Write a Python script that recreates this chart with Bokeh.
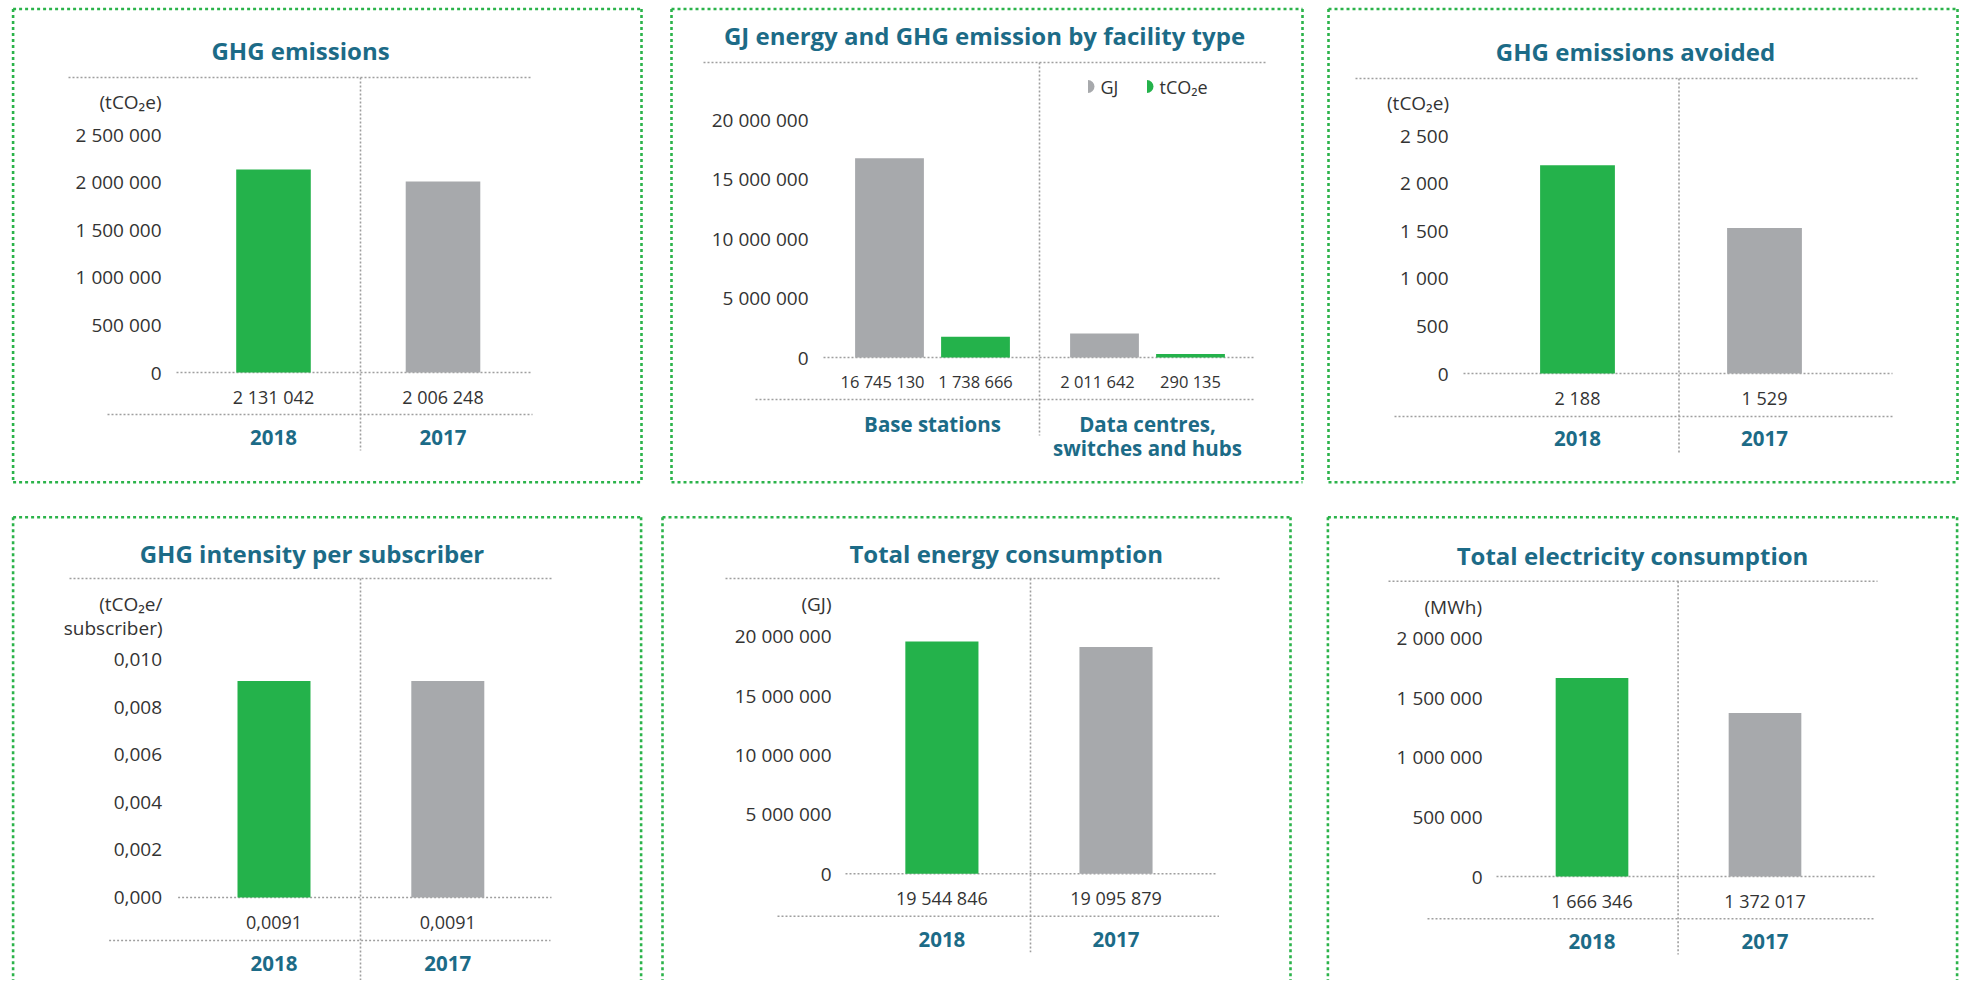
import math
from bokeh.plotting import figure
from bokeh.layouts import row, column
from bokeh.models import Range1d, FixedTicker, ColumnDataSource
from bokeh.core.properties import value
from bokeh.embed import file_html
from bokeh.resources import INLINE

# ---------------- data ----------------
years = ["2018", "2017"]

ghg_emissions = [2131042, 2006248]
ghg_ticks = [0, 500000, 1000000, 1500000, 2000000, 2500000]
ghg_tick_labels = ["0", "500 000", "1 000 000", "1 500 000", "2 000 000", "2 500 000"]

facility_types = ["Base stations", "Data centres,\nswitches and hubs"]
facility_gj = [16745130, 2011642]
facility_tco2e = [1738666, 290135]
facility_series = ["GJ", "tCO₂e"]
facility_ticks = [0, 5000000, 10000000, 15000000, 20000000]
facility_tick_labels = ["0", "5 000 000", "10 000 000", "15 000 000", "20 000 000"]

ghg_avoided = [2188, 1529]
avoided_ticks = [0, 500, 1000, 1500, 2000, 2500]
avoided_tick_labels = ["0", "500", "1 000", "1 500", "2 000", "2 500"]

ghg_intensity = [0.0091, 0.0091]
intensity_ticks = [0.0, 0.002, 0.004, 0.006, 0.008, 0.010]
intensity_tick_labels = ["0,000", "0,002", "0,004", "0,006", "0,008", "0,010"]

energy = [19544846, 19095879]
energy_ticks = [0, 5000000, 10000000, 15000000, 20000000]
energy_tick_labels = ["0", "5 000 000", "10 000 000", "15 000 000", "20 000 000"]

electricity = [1666346, 1372017]
electricity_ticks = [0, 500000, 1000000, 1500000, 2000000]
electricity_tick_labels = ["0", "500 000", "1 000 000", "1 500 000", "2 000 000"]

# ---------------- style ----------------
FONT = "Open Sans"
TEAL = "#1c6b87"
GREEN = "#24b24b"
GREY = "#a7a9ac"
DOT = "#9f9f9f"
BORDER = "#2bb34a"
TXT = "#333333"
year_colors = [GREEN, GREY]


def fmt_int(v):
    return f"{v:,}".replace(",", " ")


def fmt_dec(v):
    return f"{v:.4f}".replace(".", ",")


def build(g, ticks, tick_labels, cat_labels):
    ox, oy, W, H = g["canvas"]
    c0, c1 = g["cx"]
    u = c1 - c0
    yb, k = g["yb"], g["k"]

    def X(px):
        return (px - c0) / u

    def Y(py):
        return (yb - py) / k

    p = figure(width=W, height=H,
               x_range=Range1d(X(ox), X(ox + W)),
               y_range=Range1d(Y(oy + H), Y(oy)),
               output_backend="svg", toolbar_location=None, title=None,
               min_border=0, min_border_left=0, min_border_right=0,
               min_border_top=0, min_border_bottom=0)
    p.xgrid.visible = False
    p.ygrid.visible = False
    p.outline_line_color = None
    p.background_fill_color = "white"
    p.border_fill_color = "white"

    # green dotted frame
    l, t, r, b = g["box"]
    segs = [(l, t, r, t), (l, t, l, b), (r, t, r, b)]
    if g.get("box_bottom", True):
        segs.append((l, b, r, b))
    p.segment(x0=[X(s[0]) for s in segs], y0=[Y(s[1]) for s in segs],
              x1=[X(s[2]) for s in segs], y1=[Y(s[3]) for s in segs],
              line_color=BORDER, line_width=2.6, line_dash="3 3")

    # grey dotted rules
    tl = g["top_line"]
    bl = g["base_line"]
    l2 = g["line2"]
    dv = g["divider"]
    rules = [(tl[1], tl[0], tl[2], tl[0]),
             (bl[1], bl[0], bl[2], bl[0]),
             (l2[1], l2[0], l2[2], l2[0]),
             (dv[0], dv[1], dv[0], dv[2])]
    p.segment(x0=[X(s[0]) for s in rules], y0=[Y(s[1]) for s in rules],
              x1=[X(s[2]) for s in rules], y1=[Y(s[3]) for s in rules],
              line_color=DOT, line_width=1.6, line_dash="2 2")

    # title
    p.text(x=[X(g["title_xy"][0])], y=[Y(g["title_xy"][1])], text=[g["title"]],
           text_align="center", text_baseline="middle",
           text_font=value(FONT), text_font_style="bold",
           text_font_size="24px", text_color=TEAL)

    # unit label
    if g.get("unit"):
        ur = g["unit_right"]
        p.text(x=[X(ur)] * len(g["unit"]), y=[Y(yy) for yy in g["unit_y"]],
               text=g["unit"], text_align="right", text_baseline="middle",
               text_font=value(FONT), text_font_size="19px", text_color=TXT)

    # y axis (inside the panel)
    yax = p.yaxis[0]
    yax.fixed_location = X(g["axis_x"])
    yax.ticker = FixedTicker(ticks=ticks, minor_ticks=[])
    yax.major_label_overrides = dict(zip(ticks, tick_labels))
    yax.major_label_standoff = int(round(g["axis_x"] - g["label_right"]))
    yax.major_tick_in = 0
    yax.major_tick_out = 0
    yax.major_tick_line_color = None
    yax.minor_tick_line_color = None
    yax.axis_line_color = None
    yax.major_label_text_font = FONT
    yax.major_label_text_font_size = "19px"
    yax.major_label_text_color = TXT

    # x axis (category labels)
    xax = p.xaxis[0]
    xax.fixed_location = Y(l2[0])
    xax.ticker = FixedTicker(ticks=list(range(len(cat_labels))), minor_ticks=[])
    xax.major_label_overrides = {i: lab for i, lab in enumerate(cat_labels)}
    xax.major_label_standoff = g["cat_standoff"]
    xax.major_tick_in = 0
    xax.major_tick_out = 0
    xax.major_tick_line_color = None
    xax.minor_tick_line_color = None
    xax.axis_line_color = None
    xax.major_label_text_font = FONT
    xax.major_label_text_font_style = "bold"
    xax.major_label_text_font_size = "20.5px"
    xax.major_label_text_color = TEAL
    xax.major_label_text_line_height = g.get("cat_line_height", 0.9)

    return p, X, Y


def simple_panel(g, vals, ticks, tick_labels, fmt):
    p, X, Y = build(g, ticks, tick_labels, years)
    idx = list(range(len(years)))
    src = ColumnDataSource(dict(x=idx, top=vals, color=year_colors,
                                label=[fmt(v) for v in vals],
                                ly=[Y(g["value_y"])] * len(vals)))
    p.vbar(x="x", top="top", bottom=0, width=g["bw"], fill_color="color",
           line_color=None, source=src)
    p.text(x="x", y="ly", text="label", source=src, text_align="center",
           text_baseline="middle", text_font=value(FONT),
           text_font_size="18px", text_color=TXT)
    return p


# ---------------- panel geometry (page pixels) ----------------
g1 = dict(canvas=(0, 0, 660, 490), box=(12.6, 8.5, 641, 481.7),
          cx=(273, 442.5), yb=372, k=238 / 2500000, bw=0.44,
          title="GHG emissions", title_xy=(300, 50),
          top_line=(77, 68, 531), base_line=(372, 176, 531),
          line2=(414, 107, 532), divider=(360, 77, 450),
          unit=["(tCO₂e)"], unit_y=[101], unit_right=161,
          axis_x=176, label_right=161, value_y=396, cat_standoff=15)

g2 = dict(canvas=(660, 0, 658, 490), box=(671, 8.5, 1302, 481.7),
          cx=(932, 1147), yb=357, k=238 / 20000000, bw=0.32,
          title="GJ energy and GHG emission by facility type", title_xy=(984, 35),
          top_line=(62, 703, 1265), base_line=(357, 823, 1253),
          line2=(399, 755, 1253), divider=(1039, 62, 435),
          axis_x=823, label_right=808, value_y=381, cat_standoff=10,
          cat_line_height=0.86)

g3 = dict(canvas=(1318, 0, 645, 490), box=(1328, 8.5, 1957, 481.7),
          cx=(1577, 1764), yb=373, k=238 / 2500, bw=0.40,
          title="GHG emissions avoided", title_xy=(1635, 51),
          top_line=(78, 1355, 1917), base_line=(373, 1463, 1892),
          line2=(416, 1394, 1893), divider=(1678.5, 78, 452),
          unit=["(tCO₂e)"], unit_y=[102], unit_right=1448.5,
          axis_x=1463, label_right=1448, value_y=397, cat_standoff=14)

g4 = dict(canvas=(0, 490, 655, 490), box=(12.6, 516.7, 640.6, 990), box_bottom=False,
          cx=(273.5, 447.3), yb=897, k=238 / 0.01, bw=0.42,
          title="GHG intensity per subscriber", title_xy=(311.5, 552.7),
          top_line=(578, 69, 552.6), base_line=(897, 177.6, 551),
          line2=(940, 108.6, 550), divider=(360, 578, 980),
          unit=["(tCO₂e/", "subscriber)"], unit_y=[603, 627], unit_right=162,
          axis_x=177.6, label_right=162, value_y=921.7, cat_standoff=15)

g5 = dict(canvas=(655, 490, 663, 490), box=(662, 516.7, 1290, 990), box_bottom=False,
          cx=(941.4, 1115.5), yb=873.3, k=237.6 / 20000000, bw=0.42,
          title="Total energy consumption", title_xy=(1005.7, 552.7),
          top_line=(578, 725, 1219), base_line=(873.3, 845, 1215.6),
          line2=(915.7, 777, 1218.5), divider=(1030, 578, 951.7),
          unit=["(GJ)"], unit_y=[603], unit_right=831,
          axis_x=845, label_right=830.5, value_y=897.3, cat_standoff=16)

g6 = dict(canvas=(1318, 490, 645, 490), box=(1327.4, 516.7, 1956.6, 990), box_bottom=False,
          cx=(1591.5, 1764.5), yb=876, k=238.3 / 2000000, bw=0.42,
          title="Total electricity consumption", title_xy=(1632, 555),
          top_line=(580.7, 1388, 1877), base_line=(876, 1496, 1876),
          line2=(918.3, 1427, 1874), divider=(1677.6, 580.7, 954),
          unit=["(MWh)"], unit_y=[606], unit_right=1481.5,
          axis_x=1496, label_right=1481.5, value_y=900, cat_standoff=15)

# ---------------- panels ----------------
p1 = simple_panel(g1, ghg_emissions, ghg_ticks, ghg_tick_labels, fmt_int)
p3 = simple_panel(g3, ghg_avoided, avoided_ticks, avoided_tick_labels, fmt_int)
p4 = simple_panel(g4, ghg_intensity, intensity_ticks, intensity_tick_labels, fmt_dec)
p5 = simple_panel(g5, energy, energy_ticks, energy_tick_labels, fmt_int)
p6 = simple_panel(g6, electricity, electricity_ticks, electricity_tick_labels, fmt_int)

# panel 2: grouped bars
p2, X2, Y2 = build(g2, facility_ticks, facility_tick_labels, facility_types)
gidx = list(range(len(facility_types)))
off = 0.2
series_vals = [facility_gj, facility_tco2e]
series_cols = [GREY, GREEN]
label_shift = [-7, 0]
for s, (vals, col) in enumerate(zip(series_vals, series_cols)):
    xs = [i + (2 * s - 1) * off for i in gidx]
    src = ColumnDataSource(dict(x=xs, top=vals, label=[fmt_int(v) for v in vals],
                                ly=[Y2(g2["value_y"])] * len(vals)))
    p2.vbar(x="x", top="top", bottom=0, width=g2["bw"], fill_color=col,
            line_color=None, source=src)
    p2.text(x="x", y="ly", text="label", source=src, text_align="center",
            text_baseline="middle", text_font=value(FONT), x_offset=label_shift[s],
            text_font_size="16.5px", text_color=TXT)

# legend (half-disc markers)
leg_marker_x = [1087.5, 1146.5]
leg_text_x = [1100, 1159]
leg_y = 86
p2.wedge(x=[X2(v) for v in leg_marker_x], y=[Y2(leg_y)] * 2, radius=6.5,
         radius_units="screen", start_angle=-math.pi / 2, end_angle=math.pi / 2,
         fill_color=series_cols, line_color=None)
p2.text(x=[X2(v) for v in leg_text_x], y=[Y2(leg_y)] * 2, text=facility_series,
        text_align="left", text_baseline="middle", text_font=value(FONT),
        text_font_size="18px", text_color=TXT)

layout = column(row(p1, p2, p3), row(p4, p5, p6))

with open("out.html", "w") as f:
    f.write(file_html(layout, INLINE))
